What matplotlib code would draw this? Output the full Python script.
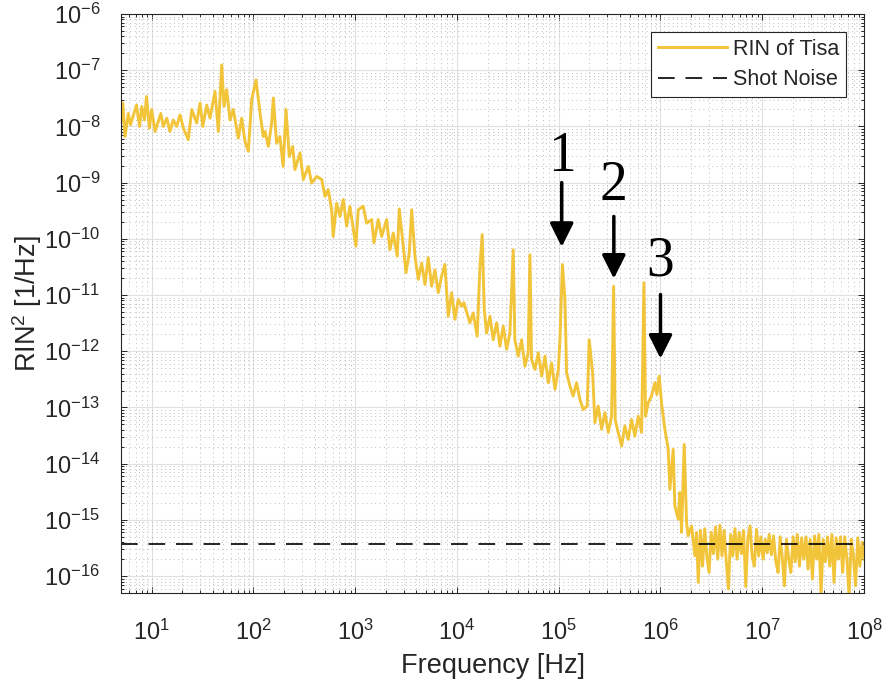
import numpy as np
import matplotlib
matplotlib.use('Agg')
import matplotlib.pyplot as plt
from matplotlib.ticker import LogLocator, NullFormatter

# RIN spectrum of the Ti:sapphire laser (frequency in Hz, RIN^2 in 1/Hz)
# audio band: mains pickup at 50/100/150/200 Hz
freq_audio = [
    5.0, 5.2, 5.47, 5.9, 6.2, 7.1, 7.6, 8.0, 8.5, 8.9, 9.5, 10.0, 10.8, 12.3,
    13.0, 14.1, 15.1, 16.3, 17.6, 19.0, 20.5, 22.9, 24.8, 27.7, 29.9, 31.8,
    34.8, 37.4, 41.9, 45.2, 48.8, 51.4, 54.6, 58.9, 63.4, 71.0, 76.7, 82.6,
    89.1, 96.2, 106,
    116, 125, 130, 140, 151, 157, 169, 182, 196, 209, 225, 243, 256, 287, 309,
    346, 373, 418, 469, 505, 543, 587, 608, 657, 708, 764, 824, 887, 1016,
    1071, 1200, 1295, 1452, 1528, 1684, 1820, 2037, 2194, 2366, 2590, 2710,
]
rin_audio = [
    1.22e-8, 2.6e-8, 6.6e-9, 1.7e-8, 1.07e-8, 2.4e-8, 1.0e-8, 2.26e-8, 1.3e-8,
    3.4e-8, 9.3e-9, 2.0e-8, 8.1e-9, 1.7e-8, 1.0e-8, 1.4e-8, 8.1e-9, 1.3e-8,
    1.0e-8, 1.6e-8, 9.3e-9, 5.8e-9, 2.0e-8, 1.15e-8, 2.6e-8, 1.0e-8, 2.4e-8,
    1.4e-8, 4.2e-8, 8.1e-9, 1.24e-7, 2.26e-8, 4.5e-8, 1.3e-8, 2.0e-8, 6.2e-9,
    1.4e-8, 5.4e-9, 3.6e-9, 3.0e-8, 6.7e-8,
    1.75e-8, 6.6e-9, 8.1e-9, 4.4e-9, 1.15e-8, 3.2e-8, 5.0e-9, 6.6e-9, 1.94e-9,
    2.0e-8, 2.9e-9, 4.4e-9, 1.7e-9, 3.4e-9, 1.13e-9, 1.94e-9, 9.8e-10,
    1.29e-9, 1.13e-9, 5.7e-10, 7.5e-10, 3.3e-10, 1.1e-10, 4.3e-10, 2.5e-10,
    5.0e-10, 1.67e-10, 3.8e-10, 7.4e-11, 3.3e-10, 3.8e-10, 1.9e-10, 2.2e-10,
    8.5e-11, 2.2e-10, 1.1e-10, 2.2e-10, 6.4e-11, 1.27e-10, 4.9e-11, 3.4e-10,
]

# 3 kHz - 1 MHz: technical lines and resonances 1, 2, 3
freq_mid = [
    2944, 3155, 3397, 3589, 3864, 4169, 4500, 4844, 5224, 5637, 6073, 6546,
    7065, 7614, 8210, 8854, 9544, 10290, 11100, 11700, 12240, 13400, 14450,
    15810, 16820, 17700, 18540, 19550, 21080, 22700, 24550, 26420, 28500,
    30760, 33130, 35730, 37070, 39990, 43170, 46560, 50120, 52120, 54080,
    58340, 62950, 67930, 73280, 78890, 85110, 91830, 99080, 102800, 108700,
    115100, 119500, 128800, 138700, 149600, 161400, 173800, 190500, 199200,
    215300, 226700, 244300, 263800, 284300, 306500, 330700, 346300, 358900,
    383700, 414800, 446700, 481300, 520000, 560000, 604000, 652000, 687000,
    713000, 757000, 817000, 881000, 921000, 971000,
]
rin_mid = [
    8.5e-11, 2.5e-11, 5.6e-11, 3.3e-10, 4.9e-11, 1.9e-11, 3.7e-11, 1.54e-11,
    4.6e-11, 1.44e-11, 2.8e-11, 1.1e-11, 2.16e-11, 3.5e-11, 4.2e-12, 1.1e-11,
    3.7e-12, 8.3e-12, 6.3e-12, 7.3e-12, 5.5e-12, 3.2e-12, 4.8e-12, 1.85e-12,
    3.25e-11, 1.19e-10, 5.5e-12, 2.1e-12, 4.2e-12, 1.6e-12, 3.2e-12, 1.23e-12,
    2.8e-12, 1.08e-12, 2.1e-12, 6.4e-11, 1.6e-12, 8.2e-13, 1.6e-12, 5.4e-13,
    9.4e-13, 5.2e-11, 7.1e-13, 4.75e-13, 9.4e-13, 3.6e-13, 8.2e-13, 2.75e-13,
    6.2e-13, 2.1e-13, 4.75e-13, 1.6e-12, 3.5e-11, 8.3e-12, 4.15e-13, 2.4e-13,
    1.6e-13, 2.75e-13, 1.4e-13, 9.2e-14, 1.06e-13, 1.6e-12, 4.15e-13, 5.4e-14,
    1.06e-13, 4.1e-14, 8.1e-14, 3.6e-14, 7.0e-14, 1.43e-11, 6.1e-14, 3.6e-14,
    2.06e-14, 4.7e-14, 2.7e-14, 6.1e-14, 3.1e-14, 7.0e-14, 3.6e-14, 1.65e-11,
    7.0e-14, 1.2e-13, 1.6e-13, 2.75e-13, 1.7e-13, 3.6e-13,
]

# roll-off above 1 MHz
freq_roll = [
    1.026e6, 1.105e6, 1.19e6, 1.237e6, 1.333e6, 1.384e6, 1.492e6, 1.55e6,
    1.611e6, 1.71e6, 1.804e6, 1.87e6, 2.02e6, 2.18e6, 2.26e6,
]
rin_roll = [
    1.14e-13, 4.1e-14, 1.8e-14, 3.5e-15, 1.8e-14, 1.77e-15, 1.03e-15, 3.07e-15,
    6.0e-16, 2.2e-14, 9.0e-16, 5.2e-16, 7.8e-16, 2.3e-16, 6.0e-16,
]

# shot-noise-limited floor
freq_floor = [
    2.35e6, 2.47e6, 2.59e6, 2.72e6, 2.86e6, 3.0e6, 3.15e6, 3.31e6, 3.47e6,
    3.65e6, 3.83e6, 4.02e6, 4.22e6, 4.43e6, 4.65e6, 4.89e6, 5.13e6, 5.39e6,
    5.66e6, 5.94e6, 6.24e6, 6.55e6, 6.88e6, 7.22e6, 7.58e6, 7.96e6, 8.36e6,
    8.78e6, 9.22e6, 9.68e6, 1.02e7, 1.07e7, 1.12e7, 1.17e7, 1.23e7, 1.29e7,
    1.36e7, 1.43e7, 1.50e7, 1.57e7, 1.65e7, 1.73e7, 1.82e7, 1.91e7, 2.01e7,
    2.11e7, 2.21e7, 2.32e7, 2.44e7, 2.56e7, 2.69e7, 2.82e7, 2.96e7, 3.11e7,
    3.27e7, 3.43e7, 3.60e7, 3.78e7, 3.97e7, 4.17e7, 4.38e7, 4.60e7, 4.83e7,
    5.07e7, 5.32e7, 5.59e7, 5.87e7, 6.16e7, 6.47e7, 6.79e7, 7.13e7, 7.49e7,
    7.86e7, 8.25e7, 8.67e7, 9.10e7, 9.56e7, 1.0e8,
]
rin_floor = [
    7.7e-17, 6.5e-16, 1.5e-16, 7.0e-16, 2.2e-16, 1.16e-16, 6.0e-16, 2.5e-16,
    7.5e-16, 2.0e-16, 8.0e-16, 2.3e-16, 6.5e-16, 1.8e-16, 5.9e-17, 5.5e-16,
    2.3e-16, 7.0e-16, 2.0e-16, 6.0e-16, 2.5e-16, 6.5e-16, 6.5e-17, 4.5e-16,
    7.8e-16, 2.2e-16, 1.5e-16, 6.8e-16, 2.3e-16, 5.0e-16, 2.0e-16, 4.5e-16,
    2.6e-16, 5.5e-16, 2.4e-16, 5.2e-16, 1.8e-16, 1.16e-16, 5.0e-16, 2.2e-16,
    6.7e-17, 4.5e-16, 2.0e-16, 1.16e-16, 5.0e-16, 1.8e-16, 5.5e-16, 1.5e-16,
    4.8e-16, 2.0e-16, 5.0e-16, 1.33e-16, 4.5e-16, 8.9e-17, 5.2e-16, 2.0e-16,
    5.5e-16, 4.5e-17, 4.5e-16, 1.8e-16, 5.0e-16, 1.5e-16, 5.5e-16, 7.7e-17,
    4.8e-16, 2.0e-16, 5.0e-16, 1.16e-16, 5.0e-16, 2.0e-16, 4.5e-17, 4.5e-16,
    2.3e-16, 6.7e-17, 4.8e-16, 1.5e-16, 4.0e-16, 2.0e-16,
]

shot_noise = 3.7e-16

x_ticks = [1e1, 1e2, 1e3, 1e4, 1e5, 1e6, 1e7, 1e8]
y_ticks = [1e-16, 1e-15, 1e-14, 1e-13, 1e-12, 1e-11, 1e-10, 1e-9, 1e-8,
           1e-7, 1e-6]

freq = freq_audio + freq_mid + freq_roll + freq_floor
rin = rin_audio + rin_mid + rin_roll + rin_floor

plt.rcParams['font.family'] = ['Liberation Sans', 'DejaVu Sans']
plt.rcParams['mathtext.fontset'] = 'custom'
plt.rcParams['mathtext.rm'] = 'Liberation Sans'
plt.rcParams['mathtext.it'] = 'Liberation Sans:italic'
plt.rcParams['mathtext.default'] = 'regular'

dark = '#262626'

fig = plt.figure(figsize=(8.86, 6.85), dpi=100)
ax = fig.add_axes([0.1366, 0.1343, 0.8386, 0.8453])

ax.loglog(freq, rin, color='#F2C43A', lw=2.1, label='RIN of Tisa')
ax.axhline(shot_noise, color='k', lw=1.2, dashes=(10, 6.5), label='Shot Noise')

ax.set_xlim(5, 1e8)
ax.set_ylim(5e-17, 1e-6)

ax.set_xticks(x_ticks)
ax.set_yticks(y_ticks)
ax.xaxis.set_minor_locator(LogLocator(base=10, subs=np.arange(2, 10), numticks=20))
ax.yaxis.set_minor_locator(LogLocator(base=10, subs=np.arange(2, 10), numticks=20))
ax.xaxis.set_minor_formatter(NullFormatter())
ax.yaxis.set_minor_formatter(NullFormatter())

ax.grid(which='major', color='#e0e0e0', lw=0.8, ls='-')
ax.grid(which='minor', color='#bdbdbd', lw=0.7, ls=(0, (1, 3.5)))
ax.set_axisbelow(True)

ax.tick_params(which='both', direction='in', top=True, right=True,
               color=dark, labelcolor=dark, width=0.7)
ax.tick_params(which='major', length=4.5, labelsize=17)
ax.tick_params(axis='x', which='major', pad=19)
ax.tick_params(axis='y', which='major', pad=15)
ax.tick_params(which='minor', length=2.5)
for s in ax.spines.values():
    s.set_color(dark)
    s.set_linewidth(0.8)

ax.set_xlabel('Frequency [Hz]', fontsize=19.5, color=dark, labelpad=6)
ax.set_ylabel('RIN$^2$ [1/Hz]', fontsize=19.5, color=dark, labelpad=0)

leg = ax.legend(loc='upper right', fontsize=15.5, fancybox=False, framealpha=1,
                edgecolor=dark, handlelength=3.2, handletextpad=0.3,
                labelspacing=0.45, borderaxespad=0.85, borderpad=0.3)
leg.get_frame().set_linewidth(0.8)
for t in leg.get_texts():
    t.set_color(dark)

# numbered arrows marking the three resonances
marks = [('1', 1.07e5, 1.0e-9, 7.2e-11, 2.9e-9),
         ('2', 3.48e5, 2.5e-10, 1.96e-11, 8.8e-10),
         ('3', 1.0e6, 1.02e-11, 7.4e-13, 3.9e-11)]
for lab, fx, y0, y1, yt in marks:
    ax.annotate('', xy=(fx, y1), xytext=(fx, y0),
                arrowprops=dict(arrowstyle='-|>,head_length=0.6,head_width=0.3',
                                lw=2.5, color='k', mutation_scale=24,
                                shrinkA=0, shrinkB=0))
    ax.text(fx, yt, lab, ha='center', va='center', fontsize=40,
            family='Liberation Serif', color='k')

fig.savefig('out.png', dpi=100)
